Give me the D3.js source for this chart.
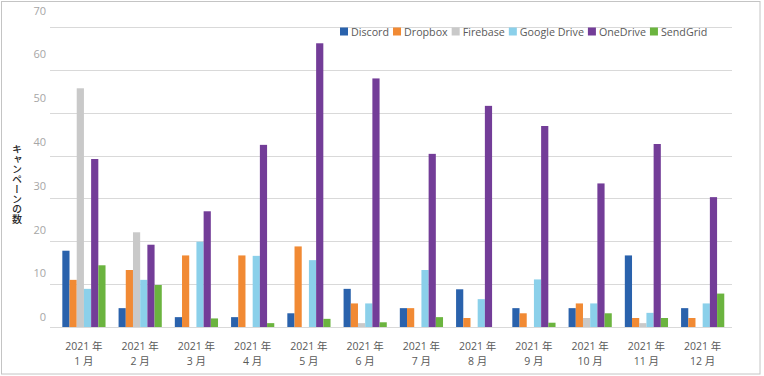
<!DOCTYPE html>
<html>
<head>
<meta charset="utf-8">
<script src="https://cdn.jsdelivr.net/npm/d3@7"></script>
<style>
  html, body { margin: 0; padding: 0; background: #fff; }
  svg { display: block; }
</style>
</head>
<body>
<svg id="chart" width="764" height="376"></svg>
<script>
// ---- data ----
const months = ["1 月", "2 月", "3 月", "4 月", "5 月", "6 月", "7 月", "8 月", "9 月", "10 月", "11 月", "12 月"];
const yearLabel = "2021 年";
const seriesNames = ["Discord", "Dropbox", "Firebase", "Google Drive", "OneDrive", "SendGrid"];
const seriesColors = ["#2a62ac", "#f18a34", "#c9c9c9", "#8bd0ea", "#733d98", "#6bb43f"];
const discord     = [17.8, 4.4, 2.3, 2.3, 3.2, 8.9, 4.4, 8.8, 4.4, 4.4, 16.7, 4.4];
const dropbox     = [11.0, 13.3, 16.7, 16.7, 18.8, 5.5, 4.4, 2.1, 3.2, 5.5, 2.1, 2.1];
const firebase    = [55.7, 22.1, 0, 0, 0, 0.9, 0, 0, 0, 2.1, 0.9, 0];
const googleDrive = [8.9, 11.0, 19.9, 16.6, 15.6, 5.5, 13.3, 6.5, 11.1, 5.5, 3.3, 5.5];
const oneDrive    = [39.2, 19.2, 27.0, 42.5, 66.2, 58.0, 40.4, 51.6, 46.9, 33.5, 42.7, 30.3];
const sendGrid    = [14.4, 9.8, 2.0, 0.9, 1.9, 1.1, 2.3, 0, 1.0, 3.2, 2.1, 7.8];
const yTicks = [0, 10, 20, 30, 40, 50, 60, 70];
const yTitle = "キャンペーンの数";

const seriesValues = [discord, dropbox, firebase, googleDrive, oneDrive, sendGrid];

// ---- chart ----
const svg = d3.select("#chart");
const font = "'Open Sans', 'Noto Sans', 'Noto Sans CJK JP', sans-serif";

// outer frame
svg.append("rect")
  .attr("x", 1.5).attr("y", 1.5).attr("width", 758.5).attr("height", 372.5)
  .attr("fill", "#fff").attr("stroke", "#c4c4c4").attr("stroke-width", 1);

const x0 = d3.scaleBand().domain(months).range([55.8, 730.8])
  .paddingInner(0.232).paddingOuter(0.116);
const x1 = d3.scaleBand().domain(seriesNames).range([0, x0.bandwidth()]);
const y = d3.scaleLinear().domain([0, 70]).range([327, 27]);
const yLab = d3.scaleLinear().domain([0, 70]).range([317, 10.7]);

// gridlines
svg.append("g").selectAll("line").data(yTicks).join("line")
  .attr("x1", 50).attr("x2", 732)
  .attr("y1", d => Math.round(y(d)) + 0.5).attr("y2", d => Math.round(y(d)) + 0.5)
  .attr("stroke", "#d9d9d9").attr("stroke-width", 1);

// y tick labels
const yAxis = svg.append("g").attr("transform", "translate(46,0)")
  .call(d3.axisLeft(yLab).tickValues(yTicks).tickSize(0).tickPadding(0));
yAxis.select(".domain").remove();
yAxis.selectAll("text").attr("fill", "#a6a6a6").style("font-family", font).style("font-size", "11px");

// y title (vertical)
svg.append("text")
  .attr("x", 17).attr("y", 184)
  .attr("text-anchor", "middle")
  .style("writing-mode", "vertical-rl")
  .style("text-orientation", "upright")
  .style("font-family", "'Noto Sans CJK JP', sans-serif")
  .style("font-size", "10px")
  .style("font-weight", "500")
  .attr("fill", "#262626")
  .text(yTitle);

// bars
const groups = svg.append("g").selectAll("g").data(months).join("g")
  .attr("transform", d => `translate(${x0(d)},0)`);
groups.selectAll("rect")
  .data((m, i) => seriesNames.map((s, k) => ({ s, k, v: seriesValues[k][i] })))
  .join("rect")
  .filter(d => d.v > 0)
  .attr("x", d => x1(d.s))
  .attr("width", x1.bandwidth())
  .attr("y", d => y(d.v))
  .attr("height", d => y(0) - y(d.v))
  .attr("fill", d => seriesColors[d.k]);

// x labels (two separate lines)
const xlab = svg.append("g")
  .attr("fill", "#595959")
  .style("font-family", font)
  .style("font-size", "10.5px");
xlab.selectAll("text.yr").data(months).join("text").attr("class", "yr")
  .attr("text-anchor", "middle")
  .attr("x", d => x0(d) + x0.bandwidth() / 2).attr("y", 350)
  .text(yearLabel);
xlab.selectAll("text.mo").data(months).join("text").attr("class", "mo")
  .attr("text-anchor", "middle")
  .attr("x", d => x0(d) + x0.bandwidth() / 2).attr("y", 364.5)
  .text(d => d);

// legend
const legend = svg.append("g");
let lx = 340;
seriesNames.forEach((s, k) => {
  legend.append("rect").attr("x", lx).attr("y", 27.5).attr("width", 8).attr("height", 8)
    .attr("fill", seriesColors[k]);
  const t = legend.append("text").attr("x", lx + 11).attr("y", 35.5)
    .attr("fill", "#595959")
    .style("font-family", font).style("font-size", "10.7px").text(s);
  lx += 11 + t.node().getComputedTextLength() + 4;
});
</script>
</body>
</html>
